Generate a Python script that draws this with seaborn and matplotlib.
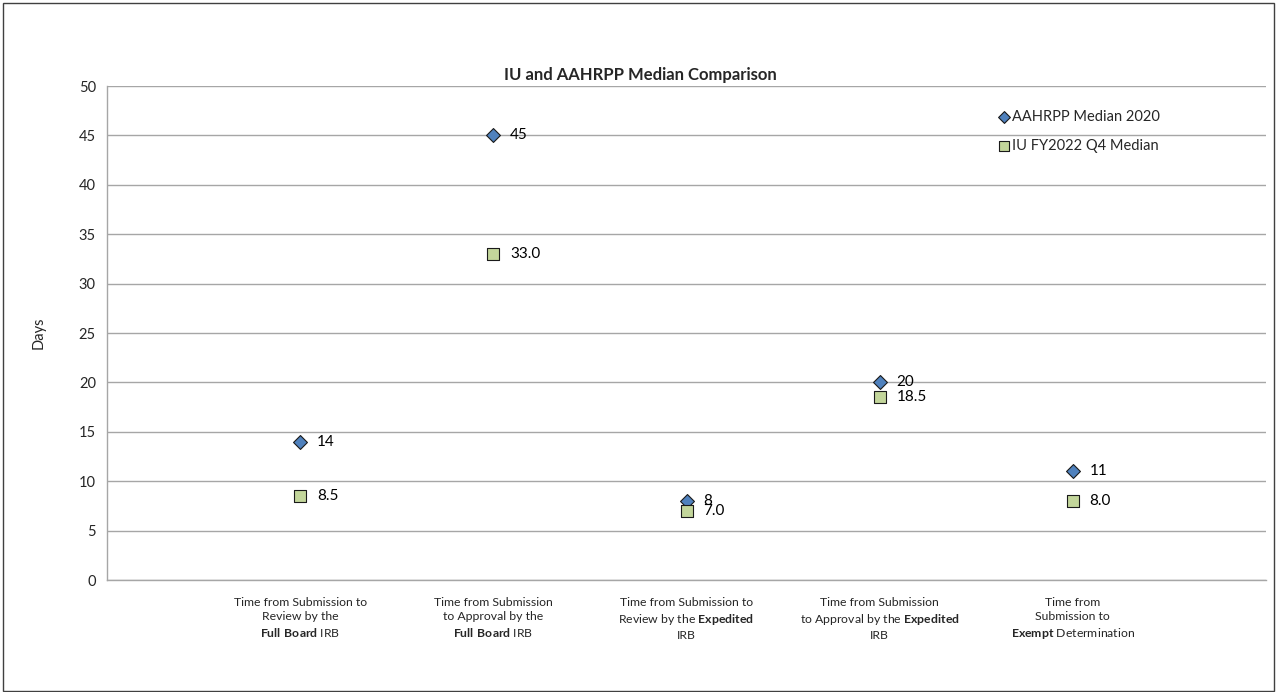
import pandas as pd
import matplotlib.pyplot as plt
import seaborn as sns
import numpy as np
from matplotlib.patches import Rectangle

categories = [
    "Time from Submission to\nReview by the\n$\\mathbf{Full\\ Board}$ IRB",
    "Time from Submission\nto Approval by the\n$\\mathbf{Full\\ Board}$ IRB",
    "Time from Submission to\nReview by the $\\mathbf{Expedited}$\nIRB",
    "Time from Submission\nto Approval by the $\\mathbf{Expedited}$\nIRB",
    "Time from\nSubmission to\n$\\mathbf{Exempt}$ Determination",
]
aahrpp = [14, 45, 8, 20, 11]
iu = [8.5, 33.0, 7.0, 18.5, 8.0]
series_names = ["AAHRPP Median 2020", "IU FY2022 Q4 Median"]

sns.set_style("white")
plt.rcParams['font.family'] = ['Lato', 'DejaVu Sans']
plt.rcParams['mathtext.fontset'] = 'custom'
plt.rcParams['mathtext.rm'] = 'Lato'
plt.rcParams['mathtext.bf'] = 'Lato:bold'

pos = np.arange(1, len(categories) + 1)
dfA = pd.DataFrame({'pos': pos, 'val': aahrpp})
dfI = pd.DataFrame({'pos': pos, 'val': iu})

fig = plt.figure(figsize=(12.77, 6.92), dpi=100)
ax = fig.add_axes([0.0838, 0.1618, 0.9076, 0.7139])

sns.scatterplot(data=dfA, x='pos', y='val', marker='D', s=50, color='#4F81BD',
                edgecolor='#1a1a1a', linewidth=0.8, ax=ax, label=series_names[0], zorder=3)
sns.scatterplot(data=dfI, x='pos', y='val', marker='s', s=72, color='#C3D69B',
                edgecolor='#1a1a1a', linewidth=0.8, ax=ax, label=series_names[1], zorder=4)

for x, v in zip(pos, aahrpp):
    ax.annotate(f"{v}", (x, v), xytext=(12, 0), textcoords='offset points',
                va='center', ha='left', fontsize=11, color='black')
for x, v in zip(pos, iu):
    ax.annotate(f"{v:.1f}", (x, v), xytext=(12, 0), textcoords='offset points',
                va='center', ha='left', fontsize=11, color='black')

ax.set_xlim(0, 6)
ax.set_ylim(0, 50)
ax.set_yticks(np.arange(0, 51, 5))
ax.set_xticks(list(pos) + [6])
ax.set_xticklabels(categories + [""], fontsize=8.8, linespacing=1.38)
ax.yaxis.grid(True, color='#a6a6a6', linewidth=1)
ax.xaxis.grid(False)
for side in ['top', 'right']:
    ax.spines[side].set_visible(False)
for side in ['left', 'bottom']:
    ax.spines[side].set_color('#a6a6a6')
    ax.spines[side].set_linewidth(1)
ax.tick_params(axis='both', length=5, color='#a6a6a6', width=1, direction='out')
ax.tick_params(axis='y', labelsize=10.5, pad=3)
ax.tick_params(axis='x', pad=7)
ax.set_xlabel("")
ax.set_ylabel("Days", fontsize=10.5, labelpad=24)

ax.set_title("IU and AAHRPP Median Comparison", fontsize=12, fontweight='bold', pad=4,
             x=0.46)

leg = ax.legend(loc='upper left', bbox_to_anchor=(992 / 1277, 1 - 104 / 692),
                bbox_transform=fig.transFigure, frameon=False, fontsize=10.5,
                handletextpad=0.2, labelspacing=1.05, borderaxespad=0, handlelength=0.8,
                markerscale=0.85)

fig.patches.append(Rectangle((0.002, 0.002), 0.996, 0.994, transform=fig.transFigure,
                             fill=False, edgecolor='#404040', linewidth=1))

fig.savefig("out.png", dpi=100)
